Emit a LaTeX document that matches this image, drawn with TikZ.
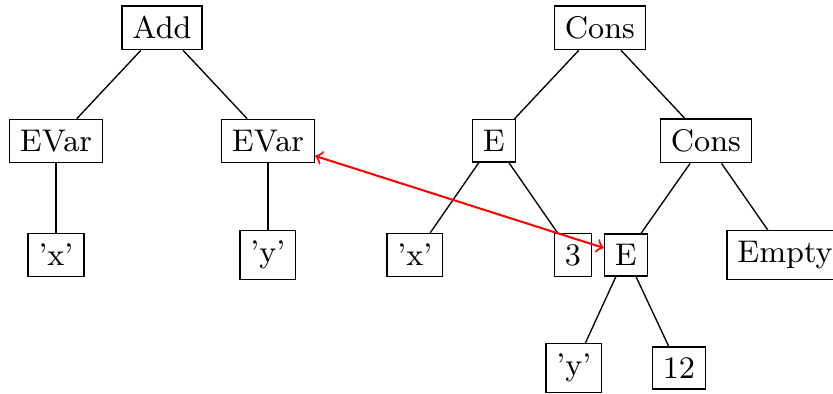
\documentclass[tikz,border=0pt]{standalone}
\begin{document}
\begin{tikzpicture}[astnode/.style={draw,rectangle,font=\fontsize{9.3}{11}\selectfont,inner sep=3.1pt}]
\useasboundingbox (0,0) rectangle (8.69,4.11);
% left tree
\node[astnode] (add) at (1.69,3.82) {Add};
\node[astnode] (evarl) at (0.584,2.64) {EVar};
\node[astnode] (evarr) at (2.795,2.64) {EVar};
\node[astnode] (xl) at (0.584,1.45) {'x'};
\node[astnode] (yl) at (2.795,1.45) {'y'};
\draw (add) -- (evarl);
\draw (add) -- (evarr);
\draw (evarl) -- (xl);
\draw (evarr) -- (yl);
% right tree
\node[astnode] (consa) at (6.258,3.82) {Cons};
\node[astnode] (ea) at (5.152,2.64) {E};
\node[astnode] (consb) at (7.364,2.64) {Cons};
\node[astnode] (xr) at (4.328,1.45) {'x'};
\node[astnode] (three) at (5.976,1.45) {3};
\node[astnode] (eb) at (6.529,1.45) {E};
\node[astnode] (empty) at (8.19,1.45) {Empty};
\node[astnode] (yr) at (5.987,0.271) {'y'};
\node[astnode] (twelve) at (7.082,0.271) {12};
\draw (consa) -- (ea);
\draw (consa) -- (consb);
\draw (ea) -- (xr);
\draw (ea) -- (three);
\draw (consb) -- (eb);
\draw (consb) -- (empty);
\draw (eb) -- (yr);
\draw (eb) -- (twelve);
% link
\draw[<->,red,semithick] (evarr) -- (eb);
\end{tikzpicture}
\end{document}
